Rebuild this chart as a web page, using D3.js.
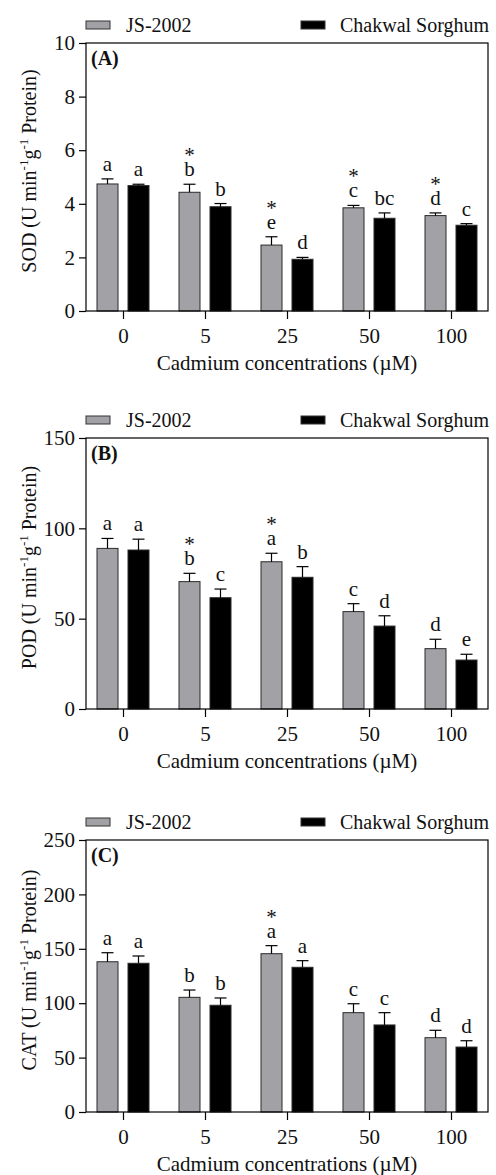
<!DOCTYPE html>
<html>
<head>
<meta charset="utf-8">
<script src="https://cdn.jsdelivr.net/npm/d3@7"></script>
<style>
  html, body { margin: 0; padding: 0; background: #fff; }
  svg { display: block; font-family: "Liberation Serif", "Times New Roman", serif; }
</style>
</head>
<body>
<svg id="chart" width="496" height="1175"></svg>
<script>
// ---------------- DATA ----------------
const categories = ["0", "5", "25", "50", "100"];
const seriesNames = ["JS-2002", "Chakwal Sorghum"];

// (A) SOD
const sodJS      = [4.74, 4.43, 2.46, 3.85, 3.56];
const sodJSErr   = [0.19, 0.30, 0.31, 0.09, 0.10];
const sodCS      = [4.68, 3.89, 1.93, 3.46, 3.20];
const sodCSErr   = [0.05, 0.12, 0.07, 0.20, 0.06];
const sodJSLetters = ["a", "b", "e", "c", "d"];
const sodCSLetters = ["a", "b", "d", "bc", "c"];
const sodJSStars   = [false, true, true, true, true];
const sodTicks     = [0, 2, 4, 6, 8, 10];

// (B) POD
const podJS      = [88.9, 70.5, 81.5, 53.9, 33.4];
const podJSErr   = [5.5, 4.6, 4.7, 4.4, 5.2];
const podCS      = [88.0, 61.6, 72.9, 45.9, 27.1];
const podCSErr   = [6.0, 4.8, 5.9, 5.7, 3.2];
const podJSLetters = ["a", "b", "a", "c", "d"];
const podCSLetters = ["a", "c", "b", "d", "e"];
const podJSStars   = [false, true, true, false, false];
const podTicks     = [0, 50, 100, 150];

// (C) CAT
const catJS      = [138.1, 105.4, 145.5, 91.3, 68.3];
const catJSErr   = [8.3, 6.7, 7.4, 8.2, 6.8];
const catCS      = [136.7, 98.1, 133.0, 80.0, 59.7];
const catCSErr   = [6.7, 6.7, 6.1, 11.3, 5.8];
const catJSLetters = ["a", "b", "a", "c", "d"];
const catCSLetters = ["a", "b", "a", "c", "d"];
const catJSStars   = [false, false, true, false, false];
const catTicks     = [0, 50, 100, 150, 200, 250];

// ---------------- LAYOUT ----------------
const panels = [
  { tag: "(A)", yname: "SOD", top: 43,  bottom: 311,  max: 10,  ticks: sodTicks,
    js: sodJS, jsErr: sodJSErr, cs: sodCS, csErr: sodCSErr,
    jsL: sodJSLetters, csL: sodCSLetters, stars: sodJSStars },
  { tag: "(B)", yname: "POD", top: 438, bottom: 709,  max: 150, ticks: podTicks,
    js: podJS, jsErr: podJSErr, cs: podCS, csErr: podCSErr,
    jsL: podJSLetters, csL: podCSLetters, stars: podJSStars },
  { tag: "(C)", yname: "CAT", top: 840, bottom: 1112, max: 250, ticks: catTicks,
    js: catJS, jsErr: catJSErr, cs: catCS, csErr: catCSErr,
    jsL: catJSLetters, csL: catCSLetters, stars: catJSStars }
];

const left = 86, right = 488;
const gray = "#a2a1a6";
const svg = d3.select("#chart");

const x = d3.scalePoint().domain(categories).range([123, 451]).padding(0);
const barW = 21, offset = 15.5, capW = 12;

panels.forEach(p => {
  const g = svg.append("g");
  const y = d3.scaleLinear().domain([0, p.max]).range([p.bottom, p.top]);

  // Legend
  const leg = [
    { name: seriesNames[0], fill: gray, sx: 86, tx: 126 },
    { name: seriesNames[1], fill: "#000", sx: 301, tx: 340 }
  ];
  leg.forEach(l => {
    g.append("rect").attr("x", l.sx).attr("y", p.top - 22).attr("width", 24).attr("height", 8)
      .attr("fill", l.fill).attr("stroke", "#333").attr("stroke-width", 1);
    g.append("text").attr("x", l.tx).attr("y", p.top - 11).attr("font-size", 20)
      .attr("fill", "#111").text(l.name);
  });

  // Bars
  const groups = [
    { vals: p.js, errs: p.jsErr, fill: gray, dx: -offset, letters: p.jsL, stars: p.stars },
    { vals: p.cs, errs: p.csErr, fill: "#000", dx: offset, letters: p.csL, stars: null }
  ];
  groups.forEach(s => {
    categories.forEach((c, i) => {
      const cx = x(c) + s.dx;
      const v = s.vals[i], e = s.errs[i];
      g.append("rect").attr("x", cx - barW / 2).attr("y", y(v))
        .attr("width", barW).attr("height", y(0) - y(v))
        .attr("fill", s.fill).attr("stroke", "#2a2a2a").attr("stroke-width", 1);
      const et = y(v + e);
      g.append("line").attr("x1", cx).attr("x2", cx).attr("y1", y(v)).attr("y2", et)
        .attr("stroke", "#000").attr("stroke-width", 1.2);
      g.append("line").attr("x1", cx - capW / 2).attr("x2", cx + capW / 2).attr("y1", et).attr("y2", et)
        .attr("stroke", "#000").attr("stroke-width", 1.2);
      const lb = et - 8;
      g.append("text").attr("x", cx).attr("y", lb).attr("text-anchor", "middle")
        .attr("font-size", 21).attr("fill", "#111").text(s.letters[i]);
      if (s.stars && s.stars[i]) {
        g.append("text").attr("x", cx).attr("y", lb - 14).attr("text-anchor", "middle")
          .attr("font-size", 21).attr("fill", "#111").text("*");
      }
    });
  });

  // Frame
  g.append("rect").attr("x", left).attr("y", p.top).attr("width", right - left)
    .attr("height", p.bottom - p.top).attr("fill", "none").attr("stroke", "#000").attr("stroke-width", 1.2);

  // Y axis
  const ya = g.append("g").attr("transform", `translate(${left},0)`)
    .call(d3.axisLeft(y).tickValues(p.ticks).tickSize(7).tickPadding(4).tickFormat(d3.format("d")));
  ya.select(".domain").remove();
  ya.selectAll("line").attr("stroke", "#000").attr("stroke-width", 1.2);
  ya.selectAll("text").attr("font-size", 21).attr("font-family", "Liberation Serif, serif").attr("fill", "#111");

  // X axis
  const xa = g.append("g").attr("transform", `translate(0,${p.bottom})`)
    .call(d3.axisBottom(x).tickSize(8).tickPadding(9));
  xa.select(".domain").remove();
  xa.selectAll("line").attr("stroke", "#000").attr("stroke-width", 1.2);
  xa.selectAll("text").attr("font-size", 21).attr("font-family", "Liberation Serif, serif").attr("fill", "#111");

  // Panel tag
  g.append("text").attr("x", 91).attr("y", p.top + 22).attr("font-size", 20)
    .attr("font-weight", "bold").attr("fill", "#111").text(p.tag);

  // X title
  g.append("text").attr("x", (left + right) / 2).attr("y", p.bottom + 59)
    .attr("text-anchor", "middle").attr("font-size", 21).attr("fill", "#111")
    .text("Cadmium concentrations (\u00b5M)");

  // Y title
  const cy = (p.top + p.bottom) / 2 - 6;
  const yt = g.append("text").attr("transform", `translate(36,${cy}) rotate(-90)`)
    .attr("text-anchor", "middle").attr("font-size", 20).attr("fill", "#111");
  yt.append("tspan").text(p.yname + " (U min");
  yt.append("tspan").attr("dy", -8).attr("font-size", 13).text("-1");
  yt.append("tspan").attr("dy", 8).text("g");
  yt.append("tspan").attr("dy", -8).attr("font-size", 13).text("-1");
  yt.append("tspan").attr("dy", 8).text(" Protein)");
});
</script>
</body>
</html>
